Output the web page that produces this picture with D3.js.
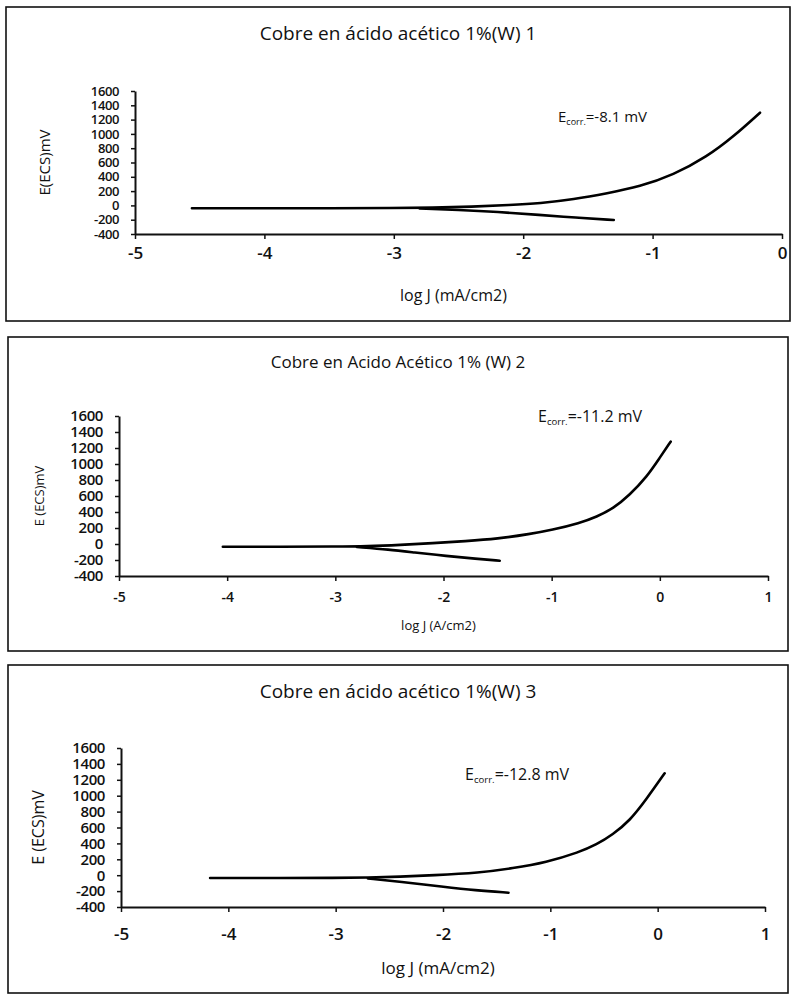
<!DOCTYPE html>
<html>
<head>
<meta charset="utf-8">
<script src="https://cdn.jsdelivr.net/npm/d3@7"></script>
<style>
  body { margin: 0; background: #fff; }
  svg text { fill: #111; }
  .axis path, .axis line { stroke: #111; }
</style>
</head>
<body>
<div id="chart"></div>
<script>
// titulos y etiquetas
var titles = ['Cobre en ácido acético 1%(W) 1', 'Cobre en Acido Acético 1% (W) 2', 'Cobre en ácido acético 1%(W) 3']
var xLabels = ['log J (mA/cm2)', 'log J (A/cm2)', 'log J (mA/cm2)']
var yLabels = ['E(ECS)mV', 'E (ECS)mV', 'E (ECS)mV']
var ecorrValues = ['-8.1', '-11.2', '-12.8']

var xTicks1 = [-5, -4, -3, -2, -1, 0]
var xTicks23 = [-5, -4, -3, -2, -1, 0, 1]
var yTicks = [-400, -200, 0, 200, 400, 600, 800, 1000, 1200, 1400, 1600]

// curvas: [log J, E mV]
var anodic1 = [[-4.56, -40], [-4, -40], [-3.5, -40], [-3, -38], [-2.7, -32], [-2.4, -18], [-2.1, 5], [-1.87, 29], [-1.61, 85], [-1.35, 169], [-1.1, 262], [-0.84, 425], [-0.58, 681], [-0.376, 961], [-0.17, 1297]]
var cathodic1 = [[-2.8, -42], [-2.5, -62], [-2.2, -90], [-1.87, -134], [-1.6, -170], [-1.3, -204]]

var anodic2 = [[-4.04, -34], [-3.5, -34], [-3, -32], [-2.7, -28], [-2.4, -12], [-2.1, 10], [-1.8, 35], [-1.5, 65], [-1.2, 125], [-1.0, 175], [-0.74, 262], [-0.585, 340], [-0.43, 445], [-0.28, 612], [-0.12, 841], [0, 1080], [0.1, 1279]]
var cathodic2 = [[-2.8, -38], [-2.5, -70], [-2.28, -104], [-1.97, -150], [-1.7, -185], [-1.48, -209]]

var anodic3 = [[-4.17, -35], [-3.5, -35], [-3, -34], [-2.7, -30], [-2.4, -18], [-2.1, -2], [-1.66, 30], [-1.35, 87], [-1.04, 160], [-0.73, 290], [-0.57, 385], [-0.42, 510], [-0.26, 685], [-0.105, 955], [0.065, 1282]]
var cathodic3 = [[-2.7, -40], [-2.4, -82], [-2, -145], [-1.7, -190], [-1.39, -220]]

var width = 792, height = 996
var fontFam = '"Open Sans", sans-serif'

// posicion de cada panel (pixeles)
var panels = [
  { box: [6, 7, 784, 314], x0: 135, x1: 782, yTop: 91, yBot: 234, xTicks: xTicks1, xDom: [-5, 0],
    titleY: 40, titleSize: 19, tickSize: 13, xPad: 8, xTickSize: 17, xLabY: 301, xLabSize: 16, yLabX: 50, yLabSize: 15,
    ecX: 558, ecY: 122, ecSize: 15, anodic: anodic1, cathodic: cathodic1 },
  { box: [8, 337, 780, 314], x0: 119, x1: 768, yTop: 416, yBot: 576, xTicks: xTicks23, xDom: [-5, 1],
    titleY: 368, titleSize: 17, tickSize: 15, xPad: 11, xTickSize: 14, xLabY: 630, xLabSize: 13, yLabX: 44, yLabSize: 13,
    ecX: 538, ecY: 422, ecSize: 16, anodic: anodic2, cathodic: cathodic2 },
  { box: [8, 665, 780, 328], x0: 121, x1: 765, yTop: 748, yBot: 907, xTicks: xTicks23, xDom: [-5, 1],
    titleY: 698, titleSize: 19, tickSize: 15, xPad: 16, xTickSize: 17, xLabY: 974, xLabSize: 17, yLabX: 44, yLabSize: 16,
    ecX: 465, ecY: 780, ecSize: 16, anodic: anodic3, cathodic: cathodic3 }
]

var svg = d3.select('#chart').append('svg').attr('width', width).attr('height', height)
  .style('font-family', fontFam)

panels.forEach(function (p, k) {
  var g = svg.append('g')

  g.append('rect')
    .attr('x', p.box[0]).attr('y', p.box[1]).attr('width', p.box[2]).attr('height', p.box[3])
    .attr('fill', 'none').attr('stroke', '#111').attr('stroke-width', 1.6)

  var x = d3.scaleLinear().domain(p.xDom).range([p.x0, p.x1])
  var y = d3.scaleLinear().domain([-400, 1600]).range([p.yBot, p.yTop])

  // titulo
  g.append('text')
    .attr('x', (p.box[0] + p.box[0] + p.box[2]) / 2)
    .attr('y', p.titleY)
    .attr('text-anchor', 'middle')
    .attr('font-size', p.titleSize)
    .text(titles[k])

  // eje x
  var xAxis = d3.axisBottom(x).tickValues(p.xTicks).tickFormat(d => String(d))
    .tickSize(5).tickSizeOuter(0).tickPadding(p.xPad)
  g.append('g').classed('axis', true)
    .attr('transform', 'translate(0,' + p.yBot + ')')
    .call(xAxis)
    .call(function (a) {
      a.attr('font-family', fontFam)
      a.select('.domain').attr('stroke-width', 2)
      a.selectAll('line').attr('stroke-width', 1.5)
      a.selectAll('text').attr('font-size', p.xTickSize).attr('font-weight', 600)
    })

  // eje y
  var yAxis = d3.axisLeft(y).tickValues(yTicks).tickFormat(d => String(d))
    .tickSize(4).tickSizeOuter(0).tickPadding(12)
  g.append('g').classed('axis', true)
    .attr('transform', 'translate(' + p.x0 + ',0)')
    .call(yAxis)
    .call(function (a) {
      a.attr('font-family', fontFam)
      a.select('.domain').attr('stroke-width', 2)
      a.selectAll('line').attr('stroke-width', 1.5)
      a.selectAll('text').attr('font-size', p.tickSize).attr('font-weight', 600)
        .attr('letter-spacing', -0.4)
    })

  // titulos de ejes
  g.append('text')
    .attr('x', (p.x0 + p.x1) / 2 - 5)
    .attr('y', p.xLabY)
    .attr('text-anchor', 'middle')
    .attr('font-size', p.xLabSize)
    .text(xLabels[k])

  g.append('text')
    .attr('transform', 'translate(' + p.yLabX + ',' + (p.yTop + p.yBot) / 2 + ') rotate(-90)')
    .attr('text-anchor', 'middle')
    .attr('font-size', p.yLabSize)
    .text(yLabels[k])

  // curvas (suavizadas)
  var line = d3.line().x(d => x(d[0])).y(d => y(d[1])).curve(d3.curveBasis)
  ;[p.anodic, p.cathodic].forEach(function (s) {
    g.append('path').datum(s)
      .attr('d', line)
      .attr('fill', 'none')
      .attr('stroke', '#000')
      .attr('stroke-width', 2.6)
      .attr('stroke-linecap', 'round')
  })

  // E corr
  var ec = g.append('text')
    .attr('x', p.ecX).attr('y', p.ecY)
    .attr('font-size', p.ecSize)
  ec.append('tspan').text('E')
  ec.append('tspan').attr('font-size', p.ecSize * 0.6).attr('dy', 3).text('corr.')
  ec.append('tspan').attr('dy', -3).text('=' + ecorrValues[k] + ' mV')
})
</script>
</body>
</html>
